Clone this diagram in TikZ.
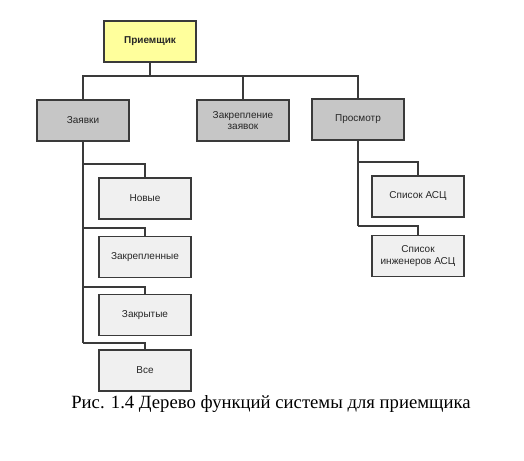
\documentclass[tikz,border=0pt]{standalone}
\usepackage{fontspec}
\setmainfont{Liberation Serif}
\setsansfont{Liberation Sans}
\usepackage{tikz}
\usetikzlibrary{positioning}

\definecolor{rootfill}{HTML}{FFFF9C}
\definecolor{midfill}{HTML}{C6C6C6}
\definecolor{leaffill}{HTML}{F0F0F0}
\definecolor{edgecol}{HTML}{3A3A3A}

\begin{document}
\begin{tikzpicture}[x=1pt,y=-1pt,
  box/.style={draw=edgecol,line width=1.3pt,minimum width=92pt,minimum height=41pt,
              inner sep=1pt,align=center,font=\sffamily\fontsize{10}{11.5}\selectfont,text=black!85},
  rootbox/.style={box,fill=rootfill,font=\sffamily\bfseries\fontsize{10}{11.5}\selectfont},
  midbox/.style={box,fill=midfill},
  leafbox/.style={box,fill=leaffill},
  link/.style={draw=edgecol,line width=1.1pt}]
  \useasboundingbox (0,0) rectangle (524,460);

  \node[rootbox] (root) at (150,41.5) {Приемщик};
  \node[midbox]  (zayavki) at (83,120.5) {Заявки};
  \node[midbox]  (zakrep) at (243,120.5) {Закрепление\\заявок};
  \node[midbox]  (prosmotr) at (358,119.5) {Просмотр};

  \node[leafbox] (novye) at (145,198.5) {Новые};
  \node[leafbox, below=16pt of novye] (zakreplennye) {Закрепленные};
  \node[leafbox, below=16pt of zakreplennye] (zakrytye) {Закрытые};
  \node[leafbox, below=13pt of zakrytye] (vse) {Все};

  \node[leafbox] (spisok) at (418,196.5) {Список АСЦ};
  \node[leafbox, below=17pt of spisok] (inzhenery) {Список\\инженеров АСЦ};

  % root to first level
  \coordinate (bus) at (150,76);
  \draw[link] (root.south) -- (bus);
  \draw[link] (bus) -| (zayavki.north);
  \draw[link] (bus) -| (zakrep.north);
  \draw[link] (bus) -| (prosmotr.north);

  % Заявки
  \draw[link] (zayavki.south) -- (zayavki.south |- 0,343);
  \draw[link] (zayavki.south |- 0,164) -| (novye.north);
  \draw[link] (zayavki.south |- 0,228) -| (zakreplennye.north);
  \draw[link] (zayavki.south |- 0,287) -| (zakrytye.north);
  \draw[link] (zayavki.south |- 0,343) -| (vse.north);

  % Просмотр
  \draw[link] (prosmotr.south) -- (prosmotr.south |- 0,226);
  \draw[link] (prosmotr.south |- 0,162) -| (spisok.north);
  \draw[link] (prosmotr.south |- 0,226) -| (inzhenery.north);

  \node[font=\fontsize{18.7}{22}\selectfont,anchor=base] (caption) at (271,408)
    {Рис. 1.4 Дерево функций системы для приемщика};
\end{tikzpicture}
\end{document}
